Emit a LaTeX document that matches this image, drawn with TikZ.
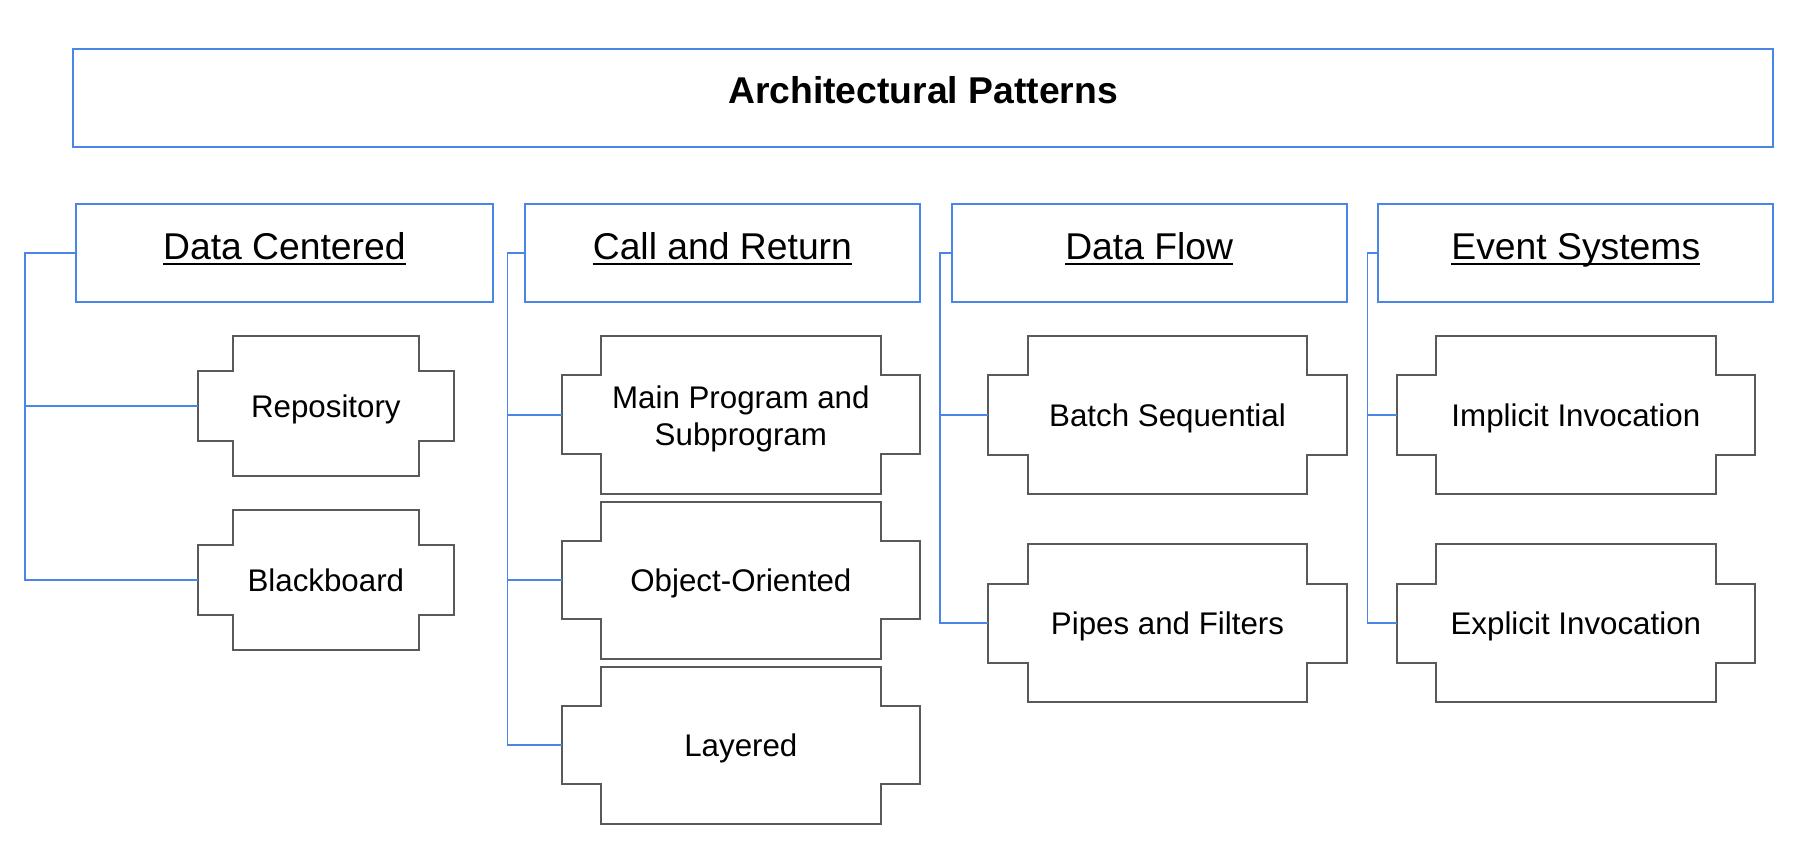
\documentclass[tikz,border=0pt]{standalone}
\usepackage{fontspec}
\setmainfont{Liberation Sans}
\definecolor{lineblue}{HTML}{4A86E8}
\definecolor{shapegray}{HTML}{595959}
\newcommand{\hdul}[1]{\setbox0\hbox{#1}\rlap{#1}\rule[-5.3pt]{\wd0}{2.7pt}}

\begin{document}
\begin{tikzpicture}[x=1pt, y=-1pt,
		topbox/.style={draw=lineblue, line width=2.2pt, minimum width=1700.6pt, minimum height=97.7pt, inner sep=0pt,
			font=\fontsize{37.3}{44}\selectfont\bfseries, text height=30pt, text depth=18.4pt},
		hdr/.style={draw=lineblue, line width=1.8pt, minimum height=98pt, inner sep=0pt,
			font=\fontsize{37.3}{44}\selectfont, text height=30pt, text depth=16.6pt},
		patbox/.style={inner sep=0pt, font=\fontsize{31.3}{37.4}\selectfont, align=center},
		onerow/.style={text height=22.4pt, text depth=0pt},
		link/.style={draw=lineblue, line width=1.8pt},
		notchline/.style={draw=shapegray, line width=2pt}]
		\useasboundingbox (0,0) rectangle (1801,842);

		\node[topbox] (arch) at (923,98.2) {Architectural Patterns};

		\node[hdr, minimum width=416.7pt] (dc) at (284.4,253.3) {\hdul{Data Centered}};
		\node[hdr, minimum width=395.3pt] (cr) at (722.4,253.3) {\hdul{Call and Return}};
		\node[hdr, minimum width=395pt] (df) at (1149.2,253.3) {\hdul{Data Flow}};
		\node[hdr, minimum width=395pt] (es) at (1575.8,253.3) {\hdul{Event Systems}};

		% data centered
		\node[patbox, onerow, minimum width=256.3pt, minimum height=140pt] (repo) at (325.85,406) {Repository};
		\node[patbox, onerow, minimum width=256.3pt, minimum height=140pt] (bb) at (325.85,580) {Blackboard};

		% call and return
		\node[patbox, text height=62pt, text depth=0pt, minimum width=358.3pt, minimum height=157.3pt] (mps) at (740.85,414.7) {Main Program and\\Subprogram};
		\node[patbox, onerow, minimum width=358.3pt, minimum height=156.6pt] (oo) at (740.85,580) {Object-Oriented};
		\node[patbox, onerow, minimum width=358.3pt, minimum height=156.6pt] (lay) at (740.85,745) {Layered};

		% data flow
		\node[patbox, onerow, minimum width=358.4pt, minimum height=158pt] (bs) at (1167.5,415) {Batch Sequential};
		\node[patbox, onerow, minimum width=358.4pt, minimum height=158pt] (pf) at (1167.5,623.2) {Pipes and Filters};

		% event systems
		\node[patbox, onerow, minimum width=358.3pt, minimum height=158pt] (ii) at (1575.85,415) {Implicit Invocation};
		\node[patbox, onerow, minimum width=358.3pt, minimum height=158pt] (ei) at (1575.85,623.2) {Explicit Invocation};

		\foreach \n/\c in {repo/35, bb/35, mps/39.3, oo/39.3, lay/39.3, bs/39.5, pf/39.5, ii/39.5, ei/39.5}
			\draw[notchline] ([xshift=\c pt]\n.north west) -- ([xshift=-\c pt]\n.north east) |- ([yshift=-\c pt]\n.north east)
				-- ([yshift=\c pt]\n.south east) -| ([xshift=-\c pt]\n.south east) -- ([xshift=\c pt]\n.south west)
				|- ([yshift=\c pt]\n.south west) -- ([yshift=-\c pt]\n.north west) -| ([xshift=\c pt]\n.north west) -- cycle;

		\draw[link] (dc.west) -- ++(-50,0) |- (repo.west);
		\draw[link] (dc.west) -- ++(-50,0) |- (bb.west);

		\draw[link] (cr.west) -- ++(-16.4,0) |- (mps.west);
		\draw[link] (cr.west) -- ++(-16.4,0) |- (oo.west);
		\draw[link] (cr.west) -- ++(-16.4,0) |- (lay.west);

		\draw[link] (df.west) -- ++(-11,0) |- (bs.west);
		\draw[link] (df.west) -- ++(-11,0) |- (pf.west);

		\draw[link] (es.west) -- ++(-10,0) |- (ii.west);
		\draw[link] (es.west) -- ++(-10,0) |- (ei.west);
\end{tikzpicture}
\end{document}
